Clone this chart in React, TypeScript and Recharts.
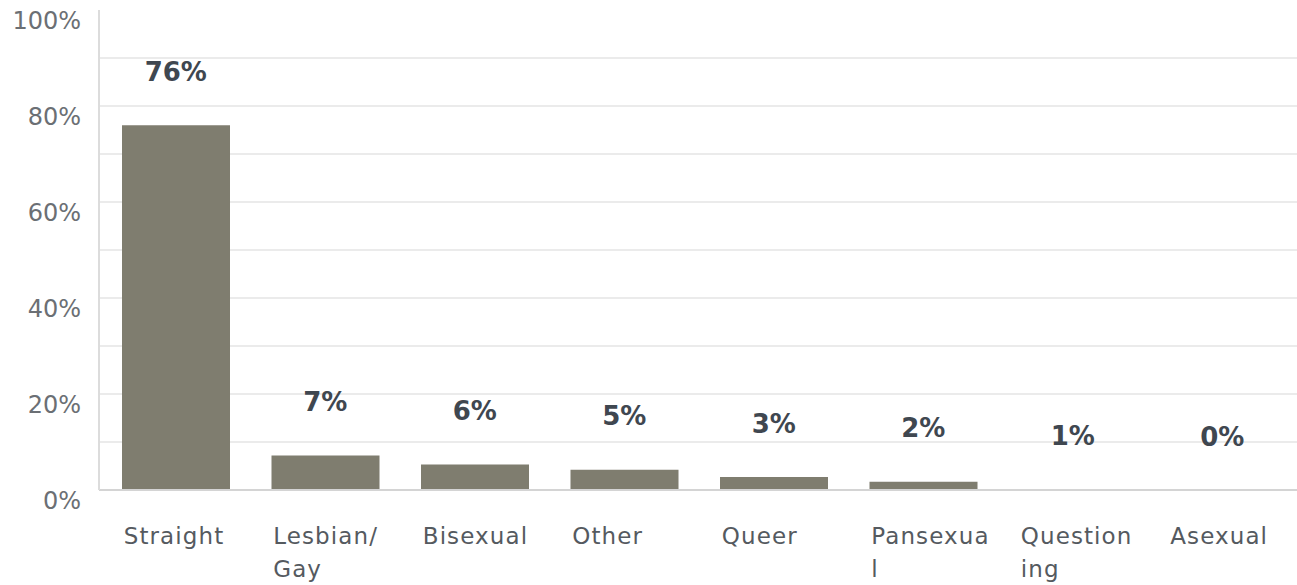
import React from 'react';
import { ComposedChart, Bar, Scatter, XAxis, YAxis, CartesianGrid } from 'recharts';

const categories = ['Straight', 'Lesbian/Gay', 'Bisexual', 'Other', 'Queer', 'Pansexual', 'Questioning', 'Asexual'];
// wrapped tick text as shown in the chart
const tickLines = [['Straight'], ['Lesbian/', 'Gay'], ['Bisexual'], ['Other'], ['Queer'], ['Pansexua', 'l'], ['Question', 'ing'], ['Asexual']];
const values = [76.0, 7.2, 5.3, 4.2, 2.7, 1.7, 0.1, 0];
const valueLabels = ['76%', '7%', '6%', '5%', '3%', '2%', '1%', '0%'];
const yTicks = [0, 20, 40, 60, 80, 100];
const gridValues = [10, 20, 30, 40, 50, 60, 70, 80, 90];
const yMax = 100;

const data = categories.map((name, i) => ({ name, value: values[i], label: valueLabels[i] }));

const FONT = '"DejaVu Sans", sans-serif';

const YTick = (props: any) => {
  const { y, payload } = props;
  return (
    <text x={81} y={y + 12} textAnchor="end" dominantBaseline="middle" fontFamily={FONT} fontSize={24} fill="#6b6f74">
      {payload.value}%
    </text>
  );
};

const XTick = (props: any) => {
  const { x, y, index } = props;
  const lines = tickLines[index] || [];
  return (
    <g>
      {lines.map((l, i) => (
        <text
          key={i}
          x={x - 52}
          y={y + 39 + i * 33}
          textAnchor="start"
          dominantBaseline="middle"
          fontFamily={FONT}
          fontSize={23}
          letterSpacing={1.1}
          fill="#555a5f"
        >
          {l}
        </text>
      ))}
    </g>
  );
};

// value label drawn above each bar top
const ValueLabel = (props: any) => {
  const { cx, cy, payload } = props;
  return (
    <text
      x={cx}
      y={cy - 52}
      textAnchor="middle"
      dominantBaseline="middle"
      fontFamily={FONT}
      fontSize={26}
      fontWeight={600}
      fill="#3f4750"
    >
      {payload.label}
    </text>
  );
};

export default function App() {
  return (
    <div style={{ position: 'absolute', left: 0, top: 0, width: 1297, height: 585, background: '#fff' }}>
      <ComposedChart width={1297} height={585} data={data} margin={{ top: 10, right: 0, left: 0, bottom: 0 }}>
        <CartesianGrid
          vertical={false}
          stroke="#ebebeb"
          strokeWidth={2}
          horizontalCoordinatesGenerator={({ offset }: any) =>
            gridValues.map((v) => offset.top + offset.height * (1 - v / yMax))
          }
        />
        <XAxis
          dataKey="name"
          height={95}
          padding={{ left: 2, right: 0 }}
          axisLine={{ stroke: '#d4d4d4', strokeWidth: 2 }}
          tickLine={false}
          tick={<XTick />}
          interval={0}
        />
        <YAxis
          width={99}
          domain={[0, yMax]}
          ticks={yTicks}
          axisLine={{ stroke: '#dcdcdc', strokeWidth: 2 }}
          tickLine={false}
          tick={<YTick />}
        />
        <Bar dataKey="value" fill="#7f7d6f" barSize={108} isAnimationActive={false} />
        <Scatter dataKey="value" shape={<ValueLabel />} isAnimationActive={false} />
      </ComposedChart>
    </div>
  );
}
